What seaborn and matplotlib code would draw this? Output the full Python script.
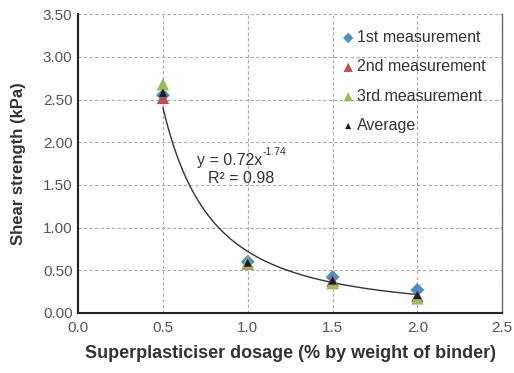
import numpy as np
import pandas as pd
import matplotlib
matplotlib.use("Agg")
import matplotlib.pyplot as plt
import seaborn as sns

# Superplasticiser dosage (% by weight of binder)
dosage = [0.5, 1.0, 1.5, 2.0]
# Shear strength (kPa) per measurement
first = [2.55, 0.60, 0.42, 0.27]
second = [2.52, 0.58, 0.38, 0.20]
third = [2.68, 0.59, 0.35, 0.17]
average = [2.58, 0.59, 0.38, 0.21]

# Power-law fit y = a * x^b
fit_a = 0.72
fit_b = -1.74
fit_r2 = 0.98

xticks = [0.0, 0.5, 1.0, 1.5, 2.0, 2.5]
yticks = [0.0, 0.5, 1.0, 1.5, 2.0, 2.5, 3.0, 3.5]

sns.set_theme(style="white")
plt.rcParams["font.family"] = ["Liberation Sans", "DejaVu Sans"]

fig = plt.figure(figsize=(5.14, 3.73), dpi=100)
ax = fig.add_axes([0.152, 0.161, 0.825, 0.801])

series = [
    ("1st measurement", first, "D", "#4a90c8", 50),
    ("2nd measurement", second, "^", "#c0504d", 80),
    ("3rd measurement", third, "^", "#9bbb59", 80),
    ("Average", average, "^", "#1a1a2a", 35),
]
frames = []
for name, vals, _, _, _ in series:
    frames.append(pd.DataFrame({"x": dosage, "y": vals, "s": name}))
df = pd.concat(frames)

for name, vals, mk, col, sz in series:
    sub = df[df["s"] == name]
    sns.scatterplot(data=sub, x="x", y="y", marker=mk, color=col, s=sz,
                    edgecolor="none", ax=ax, label=name, zorder=3)

xs = np.linspace(dosage[0], dosage[-1], 200)
ax.plot(xs, fit_a * xs ** fit_b, color="#333333", lw=1.0, zorder=2)

# fit equation, with a plain hyphen in the exponent
ax.text(0.70, 1.79, f"y = {fit_a}x", ha="left", va="center",
        fontsize=11.5, color="#333333")
ax.text(1.085, 1.88, f"{fit_b}", ha="left", va="center",
        fontsize=7.5, color="#333333")
ax.text(0.767, 1.58, f"R² = {fit_r2}", ha="left", va="center",
        fontsize=11.5, color="#333333")

ax.set_xlim(0, 2.5)
ax.set_ylim(0, 3.5)
ax.set_xticks(xticks)
ax.set_yticks(yticks)
ax.set_xticklabels([f"{v:.1f}" for v in xticks])
ax.set_yticklabels([f"{v:.2f}" for v in yticks])
ax.tick_params(axis="y", labelsize=11, colors="#555555", length=0, pad=4)
ax.tick_params(axis="x", labelsize=11, colors="#555555", length=0, pad=6)

ax.grid(True, color="#a4acb6", ls=(0, (3, 2)), lw=0.8)
ax.set_axisbelow(True)
for side in ["left", "bottom"]:
    ax.spines[side].set_color("#222222")
    ax.spines[side].set_linewidth(1.5)
ax.spines["top"].set_visible(False)
ax.spines["right"].set_color("#666666")
ax.spines["right"].set_linewidth(1.0)

ax.set_xlabel("Superplasticiser dosage (% by weight of binder)", fontsize=13,
              fontweight="bold", color="#333333", labelpad=7)
ax.set_ylabel("Shear strength (kPa)", fontsize=12, fontweight="bold",
              color="#333333", labelpad=12)

leg = ax.legend(loc="upper left", bbox_to_anchor=(0.603, 0.968), frameon=False,
                fontsize=11.5, handletextpad=0.05, handlelength=1.0,
                labelspacing=0.9, borderaxespad=0.0, markerscale=0.75)
for t in leg.get_texts():
    t.set_color("#333333")

fig.savefig("out.png", dpi=100)
